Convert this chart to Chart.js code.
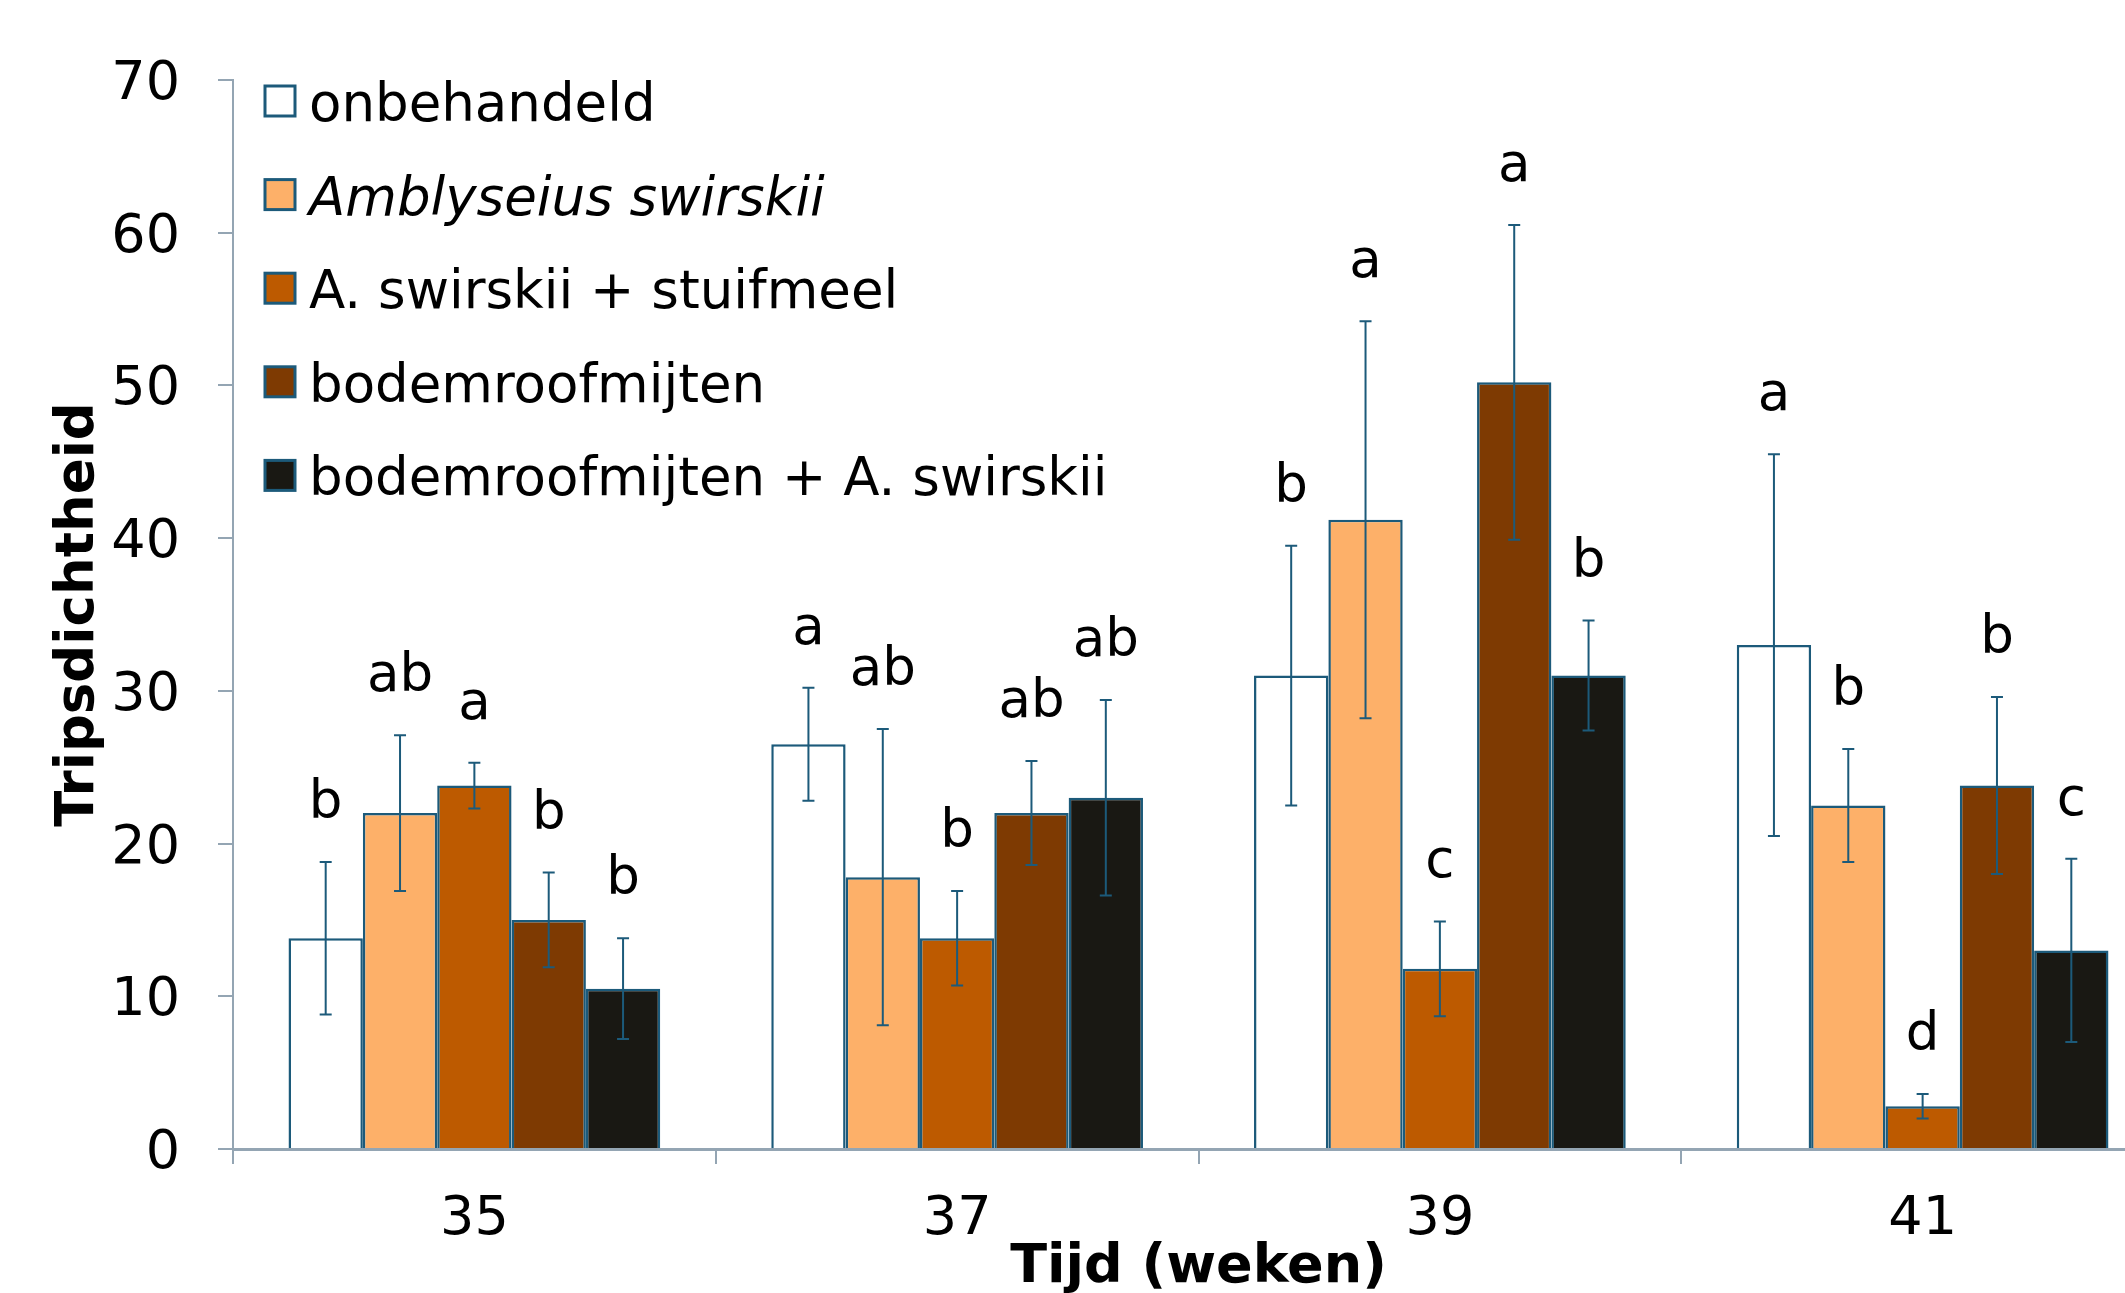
<!DOCTYPE html>
<html>
<head>
<meta charset="utf-8">
<script src="https://cdn.jsdelivr.net/npm/chart.js@4.4.1/dist/chart.umd.min.js"></script>
<style>
  html, body { margin: 0; padding: 0; background: #fff; overflow: hidden; }
  #wrap { width: 2125px; height: 1293px; overflow: hidden; position: relative; }
  canvas { display: block; }
</style>
</head>
<body>
<div id="wrap"><canvas id="chart" width="2164" height="1320"></canvas></div>
<script>
// Weeks on the x axis
const weeks = ['35', '37', '39', '41'];

// Series names
const seriesNames = [
  'onbehandeld',
  'Amblyseius swirskii',
  'A. swirskii + stuifmeel',
  'bodemroofmijten',
  'bodemroofmijten + A. swirskii'
];

// Means per week
const onbehandeld = [13.8, 26.5, 31.0, 33.0];
const swirskii = [22.0, 17.8, 41.2, 22.5];
const swirskiiStuifmeel = [23.8, 13.8, 11.8, 2.8];
const bodemroofmijten = [15.0, 22.0, 50.2, 23.8];
const bodemSwirskii = [10.5, 23.0, 31.0, 13.0];

// Error bar half-lengths
const onbehandeldErr = [5.0, 3.7, 8.5, 12.5];
const swirskiiErr = [5.1, 9.7, 13.0, 3.7];
const swirskiiStuifmeelErr = [1.5, 3.1, 3.1, 0.8];
const bodemroofmijtenErr = [3.1, 3.4, 10.3, 5.8];
const bodemSwirskiiErr = [3.3, 6.4, 3.6, 6.0];

// Significance letters
const onbehandeldLetters = ['b', 'a', 'b', 'a'];
const swirskiiLetters = ['ab', 'ab', 'a', 'b'];
const swirskiiStuifmeelLetters = ['a', 'b', 'c', 'd'];
const bodemroofmijtenLetters = ['b', 'ab', 'a', 'b'];
const bodemSwirskiiLetters = ['b', 'ab', 'b', 'c'];

const yTicks = [0, 10, 20, 30, 40, 50, 60, 70];

const barColors = ['#FFFFFF', '#FDB069', '#BD5A00', '#7E3A02', '#191813'];
const edgeColor = '#1C5A7A';
const axisColor = '#94A5B3';
const FONT = "'DejaVu Sans', Verdana, sans-serif";

Chart.defaults.font.family = FONT;
Chart.defaults.color = '#000';

const means = [onbehandeld, swirskii, swirskiiStuifmeel, bodemroofmijten, bodemSwirskii];
const errors = [onbehandeldErr, swirskiiErr, swirskiiStuifmeelErr, bodemroofmijtenErr, bodemSwirskiiErr];
const letters = [onbehandeldLetters, swirskiiLetters, swirskiiStuifmeelLetters, bodemroofmijtenLetters, bodemSwirskiiLetters];

// Error bars + letters on top of the bars
const errorBarPlugin = {
  id: 'errorBars',
  afterDatasetsDraw(chart) {
    const ctx = chart.ctx;
    const y = chart.scales.y;
    ctx.save();
    chart.data.datasets.forEach((ds, i) => {
      const meta = chart.getDatasetMeta(i);
      meta.data.forEach((bar, j) => {
        const v = means[i][j];
        const e = errors[i][j];
        const top = y.getPixelForValue(v + e);
        const bottom = y.getPixelForValue(v - e);
        ctx.strokeStyle = edgeColor;
        ctx.lineWidth = 2;
        ctx.beginPath();
        ctx.moveTo(bar.x, top);
        ctx.lineTo(bar.x, bottom);
        ctx.moveTo(bar.x - 6, top);
        ctx.lineTo(bar.x + 6, top);
        ctx.moveTo(bar.x - 6, bottom);
        ctx.lineTo(bar.x + 6, bottom);
        ctx.stroke();

        ctx.fillStyle = '#000';
        ctx.font = '53px ' + FONT;
        ctx.textAlign = 'center';
        ctx.textBaseline = 'alphabetic';
        ctx.fillText(letters[i][j], bar.x, top - 44);
      });
    });
    ctx.restore();
  }
};

// Legend drawn inside the plot, top left
const legendPlugin = {
  id: 'innerLegend',
  afterDraw(chart) {
    const ctx = chart.ctx;
    const area = chart.chartArea;
    ctx.save();
    chart.data.datasets.forEach((ds, i) => {
      const cy = area.top + 21 + i * 93.6;
      const bx = area.left + 32;
      ctx.fillStyle = barColors[i];
      ctx.fillRect(bx, cy - 15, 30, 30);
      ctx.strokeStyle = edgeColor;
      ctx.lineWidth = 3;
      ctx.strokeRect(bx, cy - 15, 30, 30);
      ctx.fillStyle = '#000';
      ctx.font = (i === 1 ? 'italic ' : '') + '53px ' + FONT;
      ctx.textAlign = 'left';
      ctx.textBaseline = 'alphabetic';
      ctx.fillText(ds.label, bx + 44, cy + 20);
    });
    ctx.restore();
  }
};

const ctx = document.getElementById('chart').getContext('2d');
new Chart(ctx, {
  type: 'bar',
  data: {
    labels: weeks,
    datasets: seriesNames.map((name, i) => ({
      label: name,
      data: means[i],
      backgroundColor: barColors[i],
      borderColor: edgeColor,
      borderWidth: 2.5,
      categoryPercentage: 0.77,
      barPercentage: 1.0
    }))
  },
  options: {
    responsive: false,
    animation: false,
    layout: { padding: { top: 80, left: 0, right: 0, bottom: 0 } },
    plugins: {
      legend: { display: false },
      tooltip: { enabled: false }
    },
    scales: {
      x: {
        grid: { offset: true, drawOnChartArea: false, drawTicks: true, tickLength: 15, color: axisColor, lineWidth: 2 },
        border: { color: axisColor, width: 3 },
        ticks: { font: { size: 54 }, color: '#000', padding: 24 },
        title: {
          display: true, text: 'Tijd (weken)', color: '#000',
          font: { size: 54, weight: 'bold' }, padding: { top: 0, bottom: 20 }
        },
        afterFit: s => { s.height = 171; }
      },
      y: {
        min: 0,
        max: 70,
        afterBuildTicks: s => { s.ticks = yTicks.map(v => ({ value: v })); },
        grid: { drawOnChartArea: false, drawTicks: true, tickLength: 15, color: axisColor, lineWidth: 2 },
        border: { color: axisColor, width: 2 },
        ticks: { font: { size: 54 }, color: '#000', padding: 38, labelOffset: 5 },
        title: {
          display: true, text: 'Tripsdichtheid', color: '#000',
          font: { size: 53, weight: 'bold' }, padding: { top: 47, bottom: 0 }
        },
        afterFit: s => { s.width = 233; }
      }
    }
  },
  plugins: [errorBarPlugin, legendPlugin]
});
</script>
</body>
</html>
